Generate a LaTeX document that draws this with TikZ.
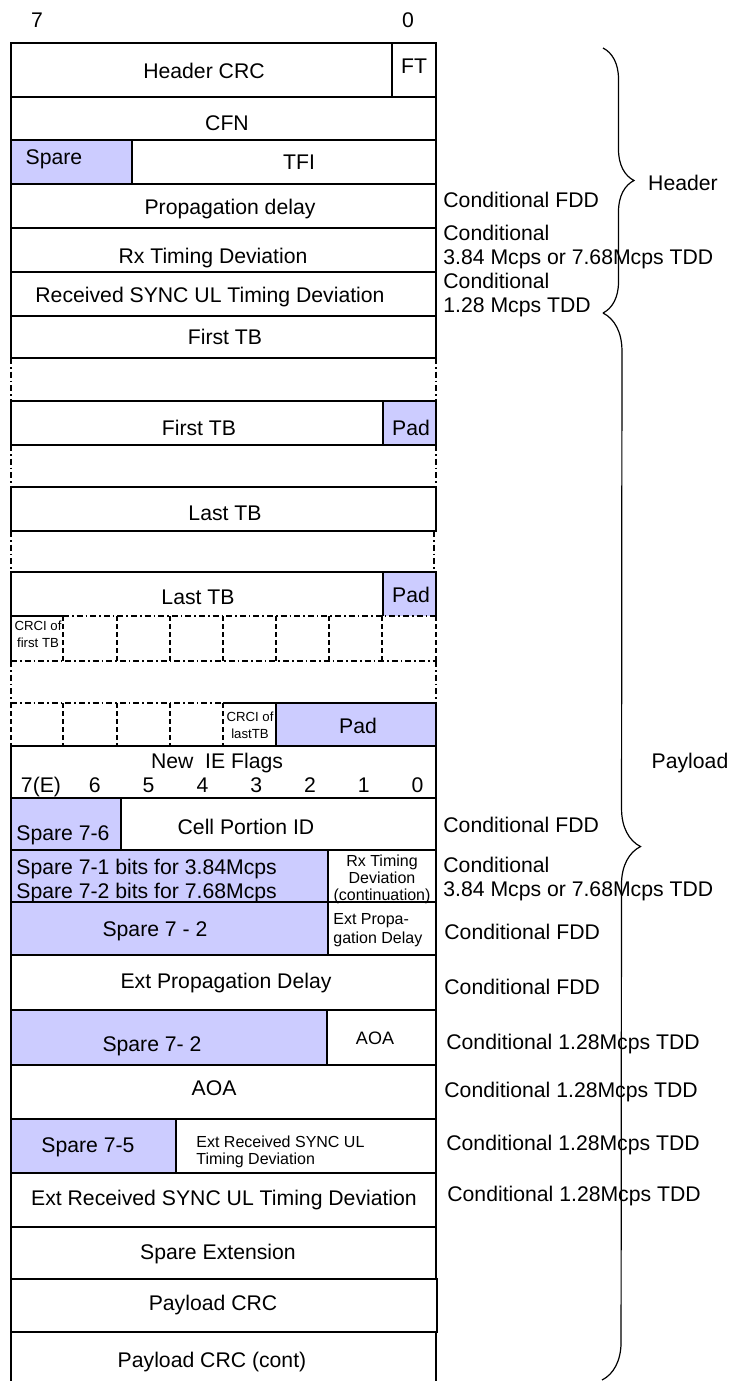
\documentclass[tikz,border=0pt]{standalone}
\usepackage{fontspec}
\setmainfont{Liberation Sans}
\usetikzlibrary{decorations.pathreplacing}
\definecolor{sparefill}{RGB}{204,204,255}

\begin{document}
\begin{tikzpicture}[x=0.5pt, y=-0.5pt]
\tikzset{
    every node/.style={align=center, inner sep=0pt, text depth=0pt, font=\fontsize{10.6}{12}\selectfont},
    box/.style={draw, line width=0.8pt},
    sparebox/.style={box, fill=sparefill},
    dotdash/.style={line width=0.8pt, dash pattern=on 3pt off 1.5pt on 0.8pt off 1.5pt},
    bitline/.style={line width=0.8pt, dash pattern=on 2.5pt off 1.5pt},
    small/.style={font=\fontsize{8}{8.5}\selectfont},
    tiny/.style={font=\fontsize{6.6}{8.5}\selectfont},
    note/.style={anchor=west, align=left},
    bracket/.style={decorate, decoration={brace, amplitude=#1}, line width=0.6pt}
}
\useasboundingbox (0,0) rectangle (731,1381);

% bit numbers
\node (msb) at (37,20) {7};
\node (lsb) at (408,20) {0};

% header part
\draw[box] (11,43) rectangle (392,97);
\draw[box] (392,43) rectangle (436,97);
\node (hcrc) at (204,71) {Header CRC};
\node (ft) at (414,66) {FT};
\draw[box] (11,97) rectangle (436,140);
\node (cfn) at (227,123) {CFN};
\draw[sparebox] (11,140) rectangle (132,184);
\draw[box] (132,140) rectangle (436,184);
\node (spare) at (54,157) {Spare};
\node (tfi) at (299,162) {TFI};
\draw[box] (11,184) rectangle (436,228);
\node (pdelay) at (230,207) {Propagation delay};
\draw[box] (11,228) rectangle (436,272);
\node (rxtd) at (213,256) {Rx Timing Deviation};
\draw[box] (11,272) rectangle (436,316);
\node (rsync) at (210,295) {Received SYNC UL Timing Deviation};

% transport blocks
\draw[box] (11,316) rectangle (436,358);
\node (tbfirst) at (225,337) {First TB};
\draw[dotdash] (11,358) -- (11,401) (436,358) -- (436,401);
\draw[box] (11,401) rectangle (383,445);
\draw[sparebox] (383,401) rectangle (436,445);
\node (tbfirstend) at (199,428) {First TB};
\node (padfirst) at (411,428) {Pad};
\draw[dotdash] (11,445) -- (11,487) (436,445) -- (436,487);
\draw[box] (11,487) rectangle (436,531);
\node (tblast) at (225,513) {Last TB};
\draw[dotdash] (11,531) -- (11,572) (434,531) -- (434,572);
\fill[sparefill] (383,572) rectangle (436,616);
\draw[box] (11,616) -- (11,572) -- (436,572) -- (436,616);
\draw[box] (383,572) -- (383,616);
\node (tblastend) at (198,597) {Last TB};
\node (padlast) at (411,595) {Pad};

% CRC indicators
\draw[box] (11,616) -- (63,616) (11,616) -- (11,661);
\draw[dotdash] (63,616) -- (436,616) (11,661) -- (436,661);
\foreach \x in {63,117,170,223,276,329,382,436}
    \draw[bitline] (\x,616) -- (\x,661);
\node[tiny] (crcifirst) at (38,634) {CRCI of\\first TB};
\draw[dotdash] (11,661) -- (11,703) (436,661) -- (436,703);
\draw[dotdash] (11,703) -- (223,703);
\foreach \x in {11,63,117,170,223}
    \draw[bitline] (\x,703) -- (\x,746);
\draw[box] (223,703) -- (276,703);
\draw[sparebox] (276,703) rectangle (436,746);
\node[tiny] (crcilast) at (250,725) {CRCI of\\lastTB};
\node (padcrci) at (358,726) {Pad};

% new IE flags
\draw[box] (11,746) rectangle (436,798);
\node (flags) at (217,761) {New~~IE Flags};
\foreach \b [count=\i from 0] in {7(E),6,5,4,3,2,1,0}
    \node (bit\i) at ({41+53.8*\i},785) {\b};

% optional fields
\draw[sparebox] (11,798) rectangle (121,850);
\draw[box] (121,798) rectangle (436,850);
\node (spare76) at (63,833) {Spare 7-6};
\node (cpid) at (246,827) {Cell Portion ID};

\draw[sparebox] (11,850) rectangle (328,902);
\draw[box] (328,850) rectangle (436,902);
\node[note] (spare71) at (16,879) {Spare 7-1 bits for 3.84Mcps\\Spare 7-2 bits for 7.68Mcps};
\node[small] (rxtdcont) at (382,878) {Rx Timing\\Deviation\\(continuation)};

\draw[sparebox] (11,902) rectangle (328,955);
\draw[box] (328,902) rectangle (436,955);
\node (spare72) at (155,929) {Spare 7 - 2};
\node[note, font=\fontsize{8}{9.5}\selectfont] (epdhigh) at (333,928) {Ext Propa-\\gation Delay};

\draw[box] (11,955) rectangle (436,1010);
\node (epd) at (226,981) {Ext Propagation Delay};

\draw[sparebox] (11,1010) rectangle (327,1065);
\draw[box] (327,1010) rectangle (436,1065);
\node (spare72b) at (152,1044) {Spare 7- 2};
\node[font=\fontsize{9}{10}\selectfont] (aoahigh) at (375,1038) {AOA};

\draw[box] (11,1065) rectangle (436,1119);
\node (aoa) at (214,1088) {AOA};

\draw[sparebox] (11,1119) rectangle (176,1173);
\draw[box] (176,1119) rectangle (436,1173);
\node (spare75) at (88,1145) {Spare 7-5};
\node[note, small] (ershigh) at (196,1150) {Ext Received SYNC UL\\Timing Deviation};

\draw[box] (11,1173) rectangle (436,1227);
\node (ers) at (224,1198) {Ext Received SYNC UL Timing Deviation};
\draw[box] (11,1227) rectangle (436,1279);
\node (spareext) at (218,1252) {Spare Extension};
\draw[box] (11,1279) rectangle (437,1332);
\node (pcrc) at (213,1303) {Payload CRC};
\draw[box] (11,1381) -- (11,1332) -- (436,1332) -- (436,1381);
\node (pcrccont) at (212,1360) {Payload CRC (cont)};

% conditions
\node[note] (cond1) at (443,200) {Conditional FDD};
\node[note] (cond2) at (443,245) {Conditional\\3.84 Mcps or 7.68Mcps TDD};
\node[note] (cond3) at (443,293) {Conditional\\1.28 Mcps TDD};
\node[note] (cond4) at (443,825) {Conditional FDD};
\node[note] (cond5) at (443,877) {Conditional\\3.84 Mcps or 7.68Mcps TDD};
\node[note] (cond6) at (444,932) {Conditional FDD};
\node[note] (cond7) at (444,987) {Conditional FDD};
\node[note] (cond8) at (446,1042) {Conditional 1.28Mcps TDD};
\node[note] (cond9) at (444,1090) {Conditional 1.28Mcps TDD};
\node[note] (cond10) at (446,1143) {Conditional 1.28Mcps TDD};
\node[note] (cond11) at (447,1194) {Conditional 1.28Mcps TDD};

% braces
\coordinate (htop) at (603,48);
\coordinate (hbot) at (603,313);
\coordinate (pbot) at (602,1380);
\draw[bracket=15.5pt] (htop) -- (hbot);
\draw[bracket=19pt] (hbot) -- (pbot);
\node (header) at (683,183) {Header};
\node (payload) at (690,761) {Payload};
\end{tikzpicture}
\end{document}
